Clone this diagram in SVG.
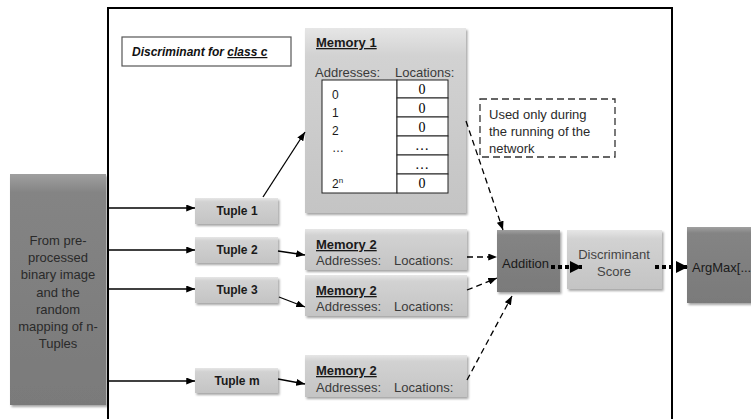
<svg xmlns="http://www.w3.org/2000/svg" width="751" height="419" viewBox="0 0 751 419">
<defs>
<linearGradient id="gLight" x1="0" y1="0" x2="0" y2="1">
<stop offset="0" stop-color="#e6e6e6"/>
<stop offset="0.15" stop-color="#d2d2d2"/>
<stop offset="1" stop-color="#c4c4c4"/>
</linearGradient>
<linearGradient id="gDark" x1="0" y1="0" x2="0" y2="1">
<stop offset="0" stop-color="#a0a0a0"/>
<stop offset="0.08" stop-color="#848484"/>
<stop offset="1" stop-color="#7a7a7a"/>
</linearGradient>
<filter id="sh" x="-10%" y="-10%" width="125%" height="125%">
<feDropShadow dx="1.5" dy="2" stdDeviation="1.2" flood-color="#000" flood-opacity="0.35"/>
</filter>
<marker id="ah" viewBox="0 0 10 8" refX="10" refY="4" markerWidth="9" markerHeight="7" markerUnits="userSpaceOnUse" orient="auto">
<path d="M0,0 L10,4 L0,8 z" fill="#000"/>
</marker>
<marker id="ahBig" viewBox="0 0 10 10" refX="10" refY="5" markerWidth="13" markerHeight="12" markerUnits="userSpaceOnUse" orient="auto">
<path d="M0,0 L10,5 L0,10 z" fill="#000"/>
</marker>
</defs>
<style>
text{font-family:"Liberation Sans",Arial,sans-serif;}
.light{fill:url(#gLight);filter:url(#sh);}
.dark{fill:url(#gDark);filter:url(#sh);}
.tup{font-size:12px;font-weight:bold;fill:#1a1a1a;text-anchor:middle;}
.mem{font-size:13px;font-weight:bold;fill:#1a1a1a;text-decoration:underline;}
.addr{font-size:13px;fill:#3a3a3a;}
.small{font-size:12px;fill:#1a1a1a;}
.cell{fill:#fff;stroke:#222;stroke-width:1;}
.zero{font-family:"Liberation Serif","Times New Roman",serif;font-size:14px;fill:#000;text-anchor:middle;}
.solid{stroke:#000;stroke-width:1.3;fill:none;marker-end:url(#ah);}
.dash{stroke:#000;stroke-width:1.3;fill:none;stroke-dasharray:6 4;marker-end:url(#ah);}
.dot{stroke:#000;stroke-width:4;fill:none;stroke-dasharray:4 3;marker-end:url(#ahBig);}
.lbl{font-size:13px;fill:#2a2a2a;}
</style>
<rect width="751" height="419" fill="#fff"/>

<g id="frame">
<path d="M108,419 L108,8 L672,8 L672,419" fill="none" stroke="#000" stroke-width="2"/>
</g>

<g id="input">
<rect class="dark" x="10" y="174" width="96" height="231"/>
<g class="lbl" text-anchor="middle" fill="#222">
<text x="58" y="245">From pre-</text>
<text x="58" y="262">processed</text>
<text x="58" y="279">binary image</text>
<text x="58" y="297">and the</text>
<text x="58" y="314">random</text>
<text x="58" y="331">mapping of n-</text>
<text x="58" y="348">Tuples</text>
</g>
</g>

<g id="title">
<rect x="122" y="37" width="169" height="29" fill="#fff" stroke="#555" stroke-width="1.2"/>
<text x="132" y="56" font-size="12" font-weight="bold" font-style="italic" fill="#111">Discriminant for <tspan text-decoration="underline">class c</tspan></text>
</g>

<g id="memory1">
<rect class="light" x="305" y="28" width="161" height="185"/>
<text class="mem" x="316" y="47">Memory 1</text>
<text class="addr" x="315" y="77">Addresses:</text>
<text class="addr" x="395" y="77">Locations:</text>
<rect class="cell" x="322" y="80" width="75" height="113"/>
<rect class="cell" x="397" y="80" width="51" height="18"/>
<rect class="cell" x="397" y="98" width="51" height="19"/>
<rect class="cell" x="397" y="117" width="51" height="19"/>
<rect class="cell" x="397" y="136" width="51" height="19"/>
<rect class="cell" x="397" y="155" width="51" height="19"/>
<rect class="cell" x="397" y="174" width="51" height="19"/>
<text class="zero" x="422" y="94">0</text>
<text class="zero" x="422" y="113">0</text>
<text class="zero" x="422" y="132">0</text>
<text class="zero" x="422" y="150">…</text>
<text class="zero" x="422" y="169">…</text>
<text class="zero" x="422" y="188">0</text>
<text class="small" x="332" y="99">0</text>
<text class="small" x="332" y="117">1</text>
<text class="small" x="332" y="135">2</text>
<text class="small" x="332" y="152">…</text>
<text class="small" x="332" y="188">2<tspan font-size="8" dy="-5">n</tspan></text>
</g>

<g id="note">
<rect x="480" y="99" width="135" height="58" fill="#fff" stroke="#333" stroke-width="1.3" stroke-dasharray="7 4"/>
<text class="lbl" x="489" y="119">Used only during</text>
<text class="lbl" x="489" y="136">the running of the</text>
<text class="lbl" x="489" y="153">network</text>
</g>

<g id="tuple1"><rect class="light" x="195" y="198" width="83" height="26"/><text class="tup" x="237" y="215">Tuple 1</text></g>
<g id="tuple2"><rect class="light" x="195" y="237" width="83" height="26"/><text class="tup" x="237" y="254">Tuple 2</text></g>
<g id="tuple3"><rect class="light" x="195" y="277" width="83" height="26"/><text class="tup" x="237" y="294">Tuple 3</text></g>
<g id="tuplem"><rect class="light" x="195" y="368" width="83" height="25"/><text class="tup" x="237" y="385">Tuple m</text></g>

<g id="memory2a"><rect class="light" x="305" y="229" width="162" height="41"/><text class="mem" x="316" y="249">Memory 2</text><text class="addr" x="316" y="265">Addresses:</text><text class="addr" x="394" y="265">Locations:</text></g>
<g id="memory2b"><rect class="light" x="305" y="275" width="162" height="41"/><text class="mem" x="316" y="295">Memory 2</text><text class="addr" x="316" y="311">Addresses:</text><text class="addr" x="394" y="311">Locations:</text></g>
<g id="memory2c"><rect class="light" x="305" y="355" width="162" height="42"/><text class="mem" x="316" y="375">Memory 2</text><text class="addr" x="316" y="392">Addresses:</text><text class="addr" x="394" y="392">Locations:</text></g>

<g id="addition"><rect class="dark" x="497" y="230" width="63" height="62"/><text x="502" y="268" font-size="13" fill="#1a1a1a">Addition</text></g>
<g id="score"><rect class="light" x="567" y="230" width="95" height="59"/><text x="614" y="259" font-size="13" fill="#444" text-anchor="middle">Discriminant</text><text x="614" y="276" font-size="13" fill="#444" text-anchor="middle">Score</text></g>
<g id="argmax"><rect class="dark" x="687" y="227" width="75" height="76"/><text x="692" y="272" font-size="13" fill="#1a1a1a">ArgMax[...</text></g>

<g id="connectors">
<line class="solid" x1="108" y1="208" x2="195" y2="208"/>
<line class="solid" x1="108" y1="250" x2="195" y2="250"/>
<line class="solid" x1="108" y1="289" x2="195" y2="289"/>
<line class="solid" x1="108" y1="381" x2="195" y2="381"/>
<line class="solid" x1="263" y1="197" x2="305" y2="132"/>
<line class="solid" x1="278" y1="251" x2="305" y2="255"/>
<line class="solid" x1="279" y1="297" x2="305" y2="307"/>
<line class="solid" x1="278" y1="379" x2="305" y2="384"/>
<line class="dash" x1="466" y1="121" x2="503" y2="230"/>
<line class="dash" x1="467" y1="257" x2="497" y2="257"/>
<line class="dash" x1="467" y1="290" x2="497" y2="278"/>
<line class="dash" x1="467" y1="380" x2="512" y2="296"/>
<line class="dot" x1="551" y1="267" x2="582" y2="267"/>
<line class="dot" x1="655" y1="267" x2="688" y2="267"/>
</g>
</svg>
